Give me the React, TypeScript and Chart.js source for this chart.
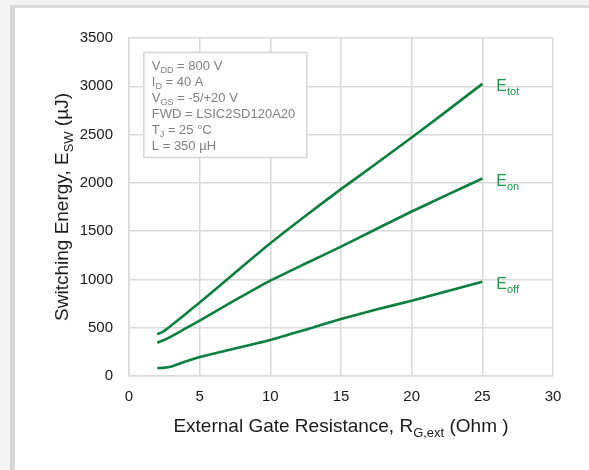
import React, { useEffect, useRef } from "react";
import { Chart, registerables } from "chart.js";

Chart.register(...registerables);

const rgExt = [2, 2.4, 3, 4, 5, 7.5, 10, 12.5, 15, 17.5, 20, 22.5, 25];
const eTot = [432, 458, 525, 642, 760, 1070, 1375, 1660, 1935, 2200, 2470, 2745, 3025];
const eOn = [345, 368, 410, 492, 574, 785, 988, 1165, 1340, 1522, 1703, 1875, 2045];
const eOff = [83, 84, 98, 150, 196, 285, 373, 480, 590, 688, 780, 878, 977];

const seriesNames = ["tot", "on", "off"];
const conditions: [string, string, string][] = [
  ["V", "DD", " = 800 V"],
  ["I", "D", " = 40 A"],
  ["V", "GS", " = -5/+20 V"],
  ["FWD = LSIC2SD120A20", "", ""],
  ["T", "J", " = 25 °C"],
  ["L = 350 µH", "", ""],
];
const xTicks = [0, 5, 10, 15, 20, 25, 30];
const yTicks = [0, 500, 1000, 1500, 2000, 2500, 3000, 3500];

const FONT = "'Liberation Sans', Arial, Helvetica, sans-serif";
const GREEN = "#0b7f3f";
const LABEL_GREEN = "#1b9a4c";

function drawSub(
  ctx: CanvasRenderingContext2D,
  x: number,
  y: number,
  main: string,
  sub: string,
  rest: string,
  size: number,
  subSize: number,
  subDrop: number
) {
  ctx.textAlign = "left";
  ctx.textBaseline = "alphabetic";
  ctx.font = `${size}px ${FONT}`;
  ctx.fillText(main, x, y);
  let cx = x + ctx.measureText(main).width;
  if (sub) {
    ctx.font = `${subSize}px ${FONT}`;
    ctx.fillText(sub, cx, y + subDrop);
    cx += ctx.measureText(sub).width;
  }
  if (rest) {
    ctx.font = `${size}px ${FONT}`;
    ctx.fillText(rest, cx, y);
    cx += ctx.measureText(rest).width;
  }
  return cx;
}

function widthOf(ctx: CanvasRenderingContext2D, parts: [string, number][]) {
  let w = 0;
  for (const [t, s] of parts) {
    ctx.font = `${s}px ${FONT}`;
    w += ctx.measureText(t).width;
  }
  return w;
}

const overlay = {
  id: "overlay",
  afterDraw(chart: any) {
    const ctx: CanvasRenderingContext2D = chart.ctx;
    const xs = chart.scales.x;
    const ys = chart.scales.y;
    const area = chart.chartArea;
    ctx.save();

    // conditions box
    const bx = xs.getPixelForValue(1.05);
    const by = ys.getPixelForValue(3350);
    const bw = 163;
    const bh = 105;
    ctx.fillStyle = "#ffffff";
    ctx.fillRect(bx, by, bw, bh);
    ctx.strokeStyle = "#d4d4d4";
    ctx.lineWidth = 1.5;
    ctx.strokeRect(bx, by, bw, bh);
    ctx.fillStyle = "#808080";
    conditions.forEach((c, i) => {
      drawSub(ctx, bx + 8, by + 18 + i * 16, c[0], c[1], c[2], 13, 9, 3);
    });

    // end labels
    const all = [eTot, eOn, eOff];
    ctx.fillStyle = LABEL_GREEN;
    all.forEach((arr, i) => {
      const last = arr.length - 1;
      const px = xs.getPixelForValue(rgExt[last]) + 14;
      const py = ys.getPixelForValue(arr[last]) + 7;
      drawSub(ctx, px, py, "E", seriesNames[i], "", 16, 11, 4);
    });

    // axis titles
    ctx.fillStyle = "#1a1a1a";
    const TS = 19;
    const SS = 13;
    const xParts: [string, number][] = [
      ["External Gate Resistance, R", TS],
      ["G,ext", SS],
      [" (Ohm )", TS],
    ];
    const xw = widthOf(ctx, xParts);
    const xc = (area.left + area.right) / 2;
    drawSub(ctx, xc - xw / 2, 432, "External Gate Resistance, R", "G,ext", " (Ohm )", TS, SS, 5);

    const yParts: [string, number][] = [
      ["Switching Energy, E", TS],
      ["SW", SS],
      [" (µJ)", TS],
    ];
    const yw = widthOf(ctx, yParts);
    const yc = (area.top + area.bottom) / 2;
    ctx.translate(68, yc + yw / 2);
    ctx.rotate(-Math.PI / 2);
    drawSub(ctx, 0, 0, "Switching Energy, E", "SW", " (µJ)", TS, SS, 5);
    ctx.restore();
  },
};

export default function App() {
  const ref = useRef<HTMLCanvasElement>(null);
  useEffect(() => {
    if (!ref.current) return;
    const ds = (data: number[]) => ({
      data: rgExt.map((x, i) => ({ x, y: data[i] })),
      borderColor: GREEN,
      borderWidth: 2.6,
      pointRadius: 0,
      fill: false,
      tension: 0.15,
    });
    const chart = new Chart(ref.current, {
      type: "line",
      data: { datasets: [ds(eTot), ds(eOn), ds(eOff)] },
      options: {
        animation: false,
        responsive: false,
        devicePixelRatio: 1,
        layout: { padding: { left: 0, right: 36, top: 38, bottom: 0 } },
        plugins: { legend: { display: false }, tooltip: { enabled: false } },
        scales: {
          x: {
            type: "linear",
            min: 0,
            max: 30,
            afterBuildTicks: (s: any) => {
              s.ticks = xTicks.map((v) => ({ value: v }));
            },
            afterFit: (s: any) => {
              s.height = 94;
            },
            grid: { color: "#d9d9d9", lineWidth: 1.5, drawTicks: false },
            border: { color: "#d9d9d9", width: 1.5 },
            ticks: {
              color: "#1a1a1a",
              font: { family: FONT, size: 15 },
              padding: 12,
              maxRotation: 0,
              callback: (v: any) => String(v),
            },
          },
          y: {
            type: "linear",
            min: 0,
            max: 3500,
            afterBuildTicks: (s: any) => {
              s.ticks = yTicks.map((v) => ({ value: v }));
            },
            afterFit: (s: any) => {
              s.width = 129;
            },
            grid: { color: "#d9d9d9", lineWidth: 1.5, drawTicks: false },
            border: { color: "#d9d9d9", width: 1.5 },
            ticks: {
              color: "#1a1a1a",
              font: { family: FONT, size: 15 },
              padding: 16,
              callback: (v: any) => String(v),
            },
          },
        },
      },
      plugins: [overlay],
    });
    return () => chart.destroy();
  }, []);

  return (
    <div
      style={{
        position: "fixed",
        left: 0,
        top: 0,
        width: 589,
        height: 470,
        background: "#f3f3f3",
        overflow: "hidden",
      }}
    >
      <div
        style={{
          position: "absolute",
          left: 10,
          top: 5,
          right: 0,
          bottom: 0,
          background: "#ffffff",
          borderLeft: "5px solid #d6d6d6",
          borderTop: "3px solid #dadada",
        }}
      />
      <canvas
        ref={ref}
        width={589}
        height={470}
        style={{ position: "absolute", left: 0, top: 0, width: 589, height: 470 }}
      />
    </div>
  );
}
